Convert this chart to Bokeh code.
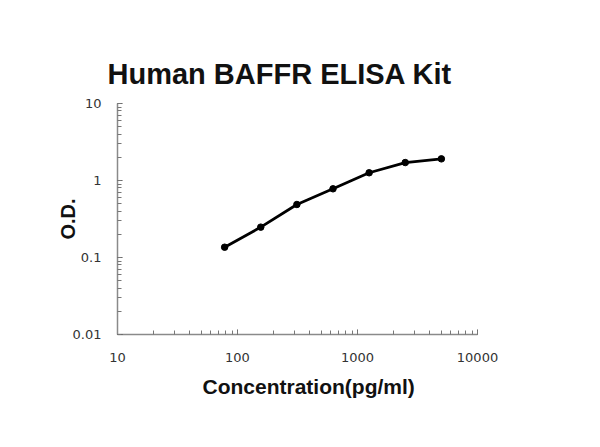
from bokeh.plotting import figure
from bokeh.models import ColumnDataSource, LogTicker, Title
from bokeh.embed import file_html
from bokeh.resources import INLINE

# data
concentration = [78.125, 156.25, 312.5, 625, 1250, 2500, 5000]
od = [0.136, 0.248, 0.488, 0.78, 1.26, 1.71, 1.91]
x_ticks = [10, 100, 1000, 10000]
y_ticks = [0.01, 0.1, 1, 10]
title_text = "Human BAFFR ELISA Kit"
x_label = "Concentration(pg/ml)"
y_label = "O.D."

src = ColumnDataSource(dict(x=concentration, y=od))

p = figure(width=592, height=439, x_axis_type="log", y_axis_type="log",
           x_range=(10, 10000), y_range=(0.01, 10),
           output_backend="svg", toolbar_location=None,
           min_border_left=117, min_border_right=115,
           min_border_top=103, min_border_bottom=105)
p.outline_line_color = None
p.xgrid.visible = False
p.ygrid.visible = False

for ax in (p.xaxis[0], p.yaxis[0]):
    ax.axis_line_color = "#8a8a8a"
    ax.axis_line_width = 1.5
    ax.major_tick_in = 5
    ax.major_tick_out = 0
    ax.minor_tick_in = 4
    ax.minor_tick_out = 0
    ax.major_tick_line_color = "#555555"
    ax.minor_tick_line_color = "#777777"
    ax.major_label_text_font = "DejaVu Sans"
    ax.major_label_text_font_size = "13px"
    ax.major_label_text_color = "#333333"

p.xaxis[0].ticker = LogTicker(mantissas=[1], num_minor_ticks=10)
p.yaxis[0].ticker = LogTicker(mantissas=[1], num_minor_ticks=10)
p.xaxis.major_label_overrides = {v: str(v) for v in x_ticks}
p.yaxis.major_label_overrides = {v: str(v) for v in y_ticks}
p.xaxis.major_label_standoff = 18
p.yaxis.major_label_standoff = 16

p.yaxis.axis_label = y_label
p.yaxis.axis_label_text_font = "Liberation Sans"
p.yaxis.axis_label_text_font_style = "bold"
p.yaxis.axis_label_text_font_size = "20px"
p.yaxis.axis_label_text_color = "#111111"
p.yaxis.axis_label_standoff = -9

p.line("x", "y", source=src, line_color="black", line_width=2.8)
p.scatter("x", "y", source=src, size=6.5, fill_color="black", line_color="black")

p.add_layout(Title(text=title_text, align="left", offset=-10,
                   vertical_align="bottom", standoff=28,
                   text_font="Liberation Sans", text_font_style="bold",
                   text_font_size="29px", text_color="#111111"), "above")
p.add_layout(Title(text=x_label, align="left", offset=85,
                   vertical_align="top", standoff=20,
                   text_font="Liberation Sans", text_font_style="bold",
                   text_font_size="21px", text_color="#111111"), "below")

open("out.html", "w").write(file_html(p, INLINE))
